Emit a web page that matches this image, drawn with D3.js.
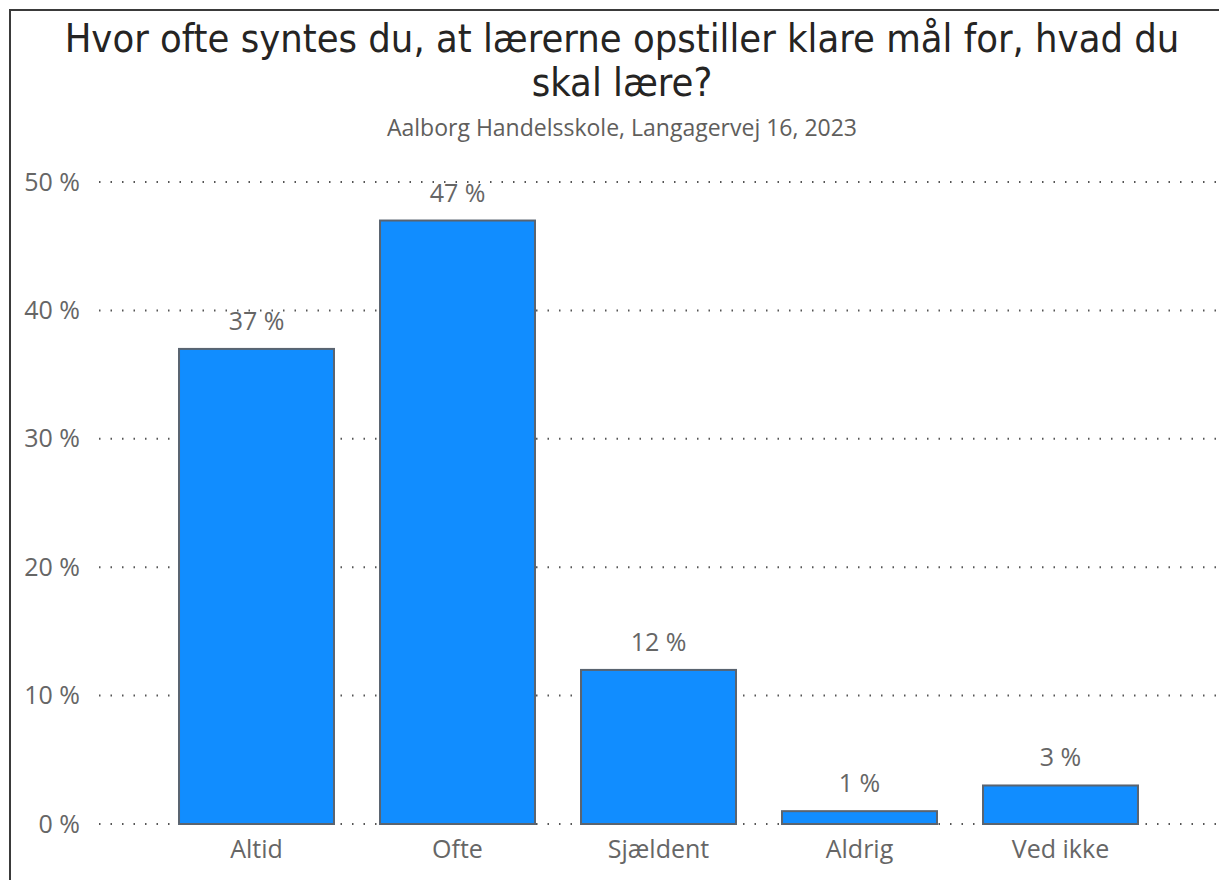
<!DOCTYPE html>
<html>
<head>
<meta charset="utf-8">
<script src="https://cdn.jsdelivr.net/npm/d3@7"></script>
<style>
  body { margin: 0; background: #fff; }
  svg { display: block; }
</style>
</head>
<body>
<div id="chart"></div>
<script>
const titleLines = ["Hvor ofte syntes du, at lærerne opstiller klare mål for, hvad du", "skal lære?"];
const subtitle = "Aalborg Handelsskole, Langagervej 16, 2023";
const categories = ["Altid", "Ofte", "Sjældent", "Aldrig", "Ved ikke"];
const values = [37, 47, 12, 1, 3];
const yTicks = [0, 10, 20, 30, 40, 50];

const width = 1219, height = 880;

const svg = d3.select("#chart").append("svg")
  .attr("width", width)
  .attr("height", height);

// frame
svg.append("path")
  .attr("d", "M10," + height + " L10,10 L" + width + ",10")
  .attr("fill", "none")
  .attr("stroke", "#3a3a3a")
  .attr("stroke-width", 2);

// title
const title = svg.append("g").attr("class", "title");
titleLines.forEach((t, i) => {
  title.append("text")
    .attr("x", 622)
    .attr("y", 52 + i * 44)
    .attr("text-anchor", "middle")
    .style("font-family", "'DejaVu Sans Condensed', 'DejaVu Sans', sans-serif")
    .style("font-size", "39.5px")
    .style("fill", "#252423")
    .text(t);
});

svg.append("text")
  .attr("x", 622)
  .attr("y", 136)
  .attr("text-anchor", "middle")
  .style("font-family", "'Open Sans', sans-serif")
  .style("font-size", "23px")
  .style("fill", "#605e5c")
  .text(subtitle);

const x = d3.scaleBand()
  .domain(categories)
  .range([156, 1161])
  .paddingInner(0.229)
  .paddingOuter(0.1145);

const y = d3.scaleLinear()
  .domain([0, 50])
  .range([824, 182]);

// gridlines
svg.append("g")
  .selectAll("line")
  .data(yTicks)
  .join("line")
  .attr("x1", 99)
  .attr("x2", width)
  .attr("y1", d => y(d))
  .attr("y2", d => y(d))
  .attr("stroke", "#555")
  .attr("stroke-width", 2)
  .attr("stroke-dasharray", "1.5,10");

// y axis labels
const yAxis = svg.append("g")
  .attr("transform", "translate(80,0)")
  .call(d3.axisLeft(y).tickValues(yTicks).tickSize(0).tickPadding(0).tickFormat(d => d + " %"));
yAxis.select(".domain").remove();
yAxis.selectAll("text")
  .style("font-family", "'Open Sans', sans-serif")
  .style("font-size", "25px")
  .style("fill", "#666");

// bars
svg.append("g")
  .selectAll("rect")
  .data(values)
  .join("rect")
  .attr("x", (d, i) => x(categories[i]))
  .attr("y", d => y(d))
  .attr("width", x.bandwidth())
  .attr("height", d => y(0) - y(d))
  .attr("fill", "#118DFF")
  .attr("stroke", "#5a6470")
  .attr("stroke-width", 2);

// value labels
svg.append("g")
  .selectAll("text")
  .data(values)
  .join("text")
  .attr("x", (d, i) => x(categories[i]) + x.bandwidth() / 2)
  .attr("y", d => y(d) - 19)
  .attr("text-anchor", "middle")
  .style("font-family", "'Open Sans', sans-serif")
  .style("font-size", "25px")
  .style("fill", "#666")
  .text(d => d + " %");

// x axis labels
const xAxis = svg.append("g")
  .attr("transform", "translate(0,824)")
  .call(d3.axisBottom(x).tickSize(0).tickPadding(16));
xAxis.select(".domain").remove();
xAxis.selectAll("text")
  .style("font-family", "'Open Sans', sans-serif")
  .style("font-size", "25px")
  .style("fill", "#666");
</script>
</body>
</html>
